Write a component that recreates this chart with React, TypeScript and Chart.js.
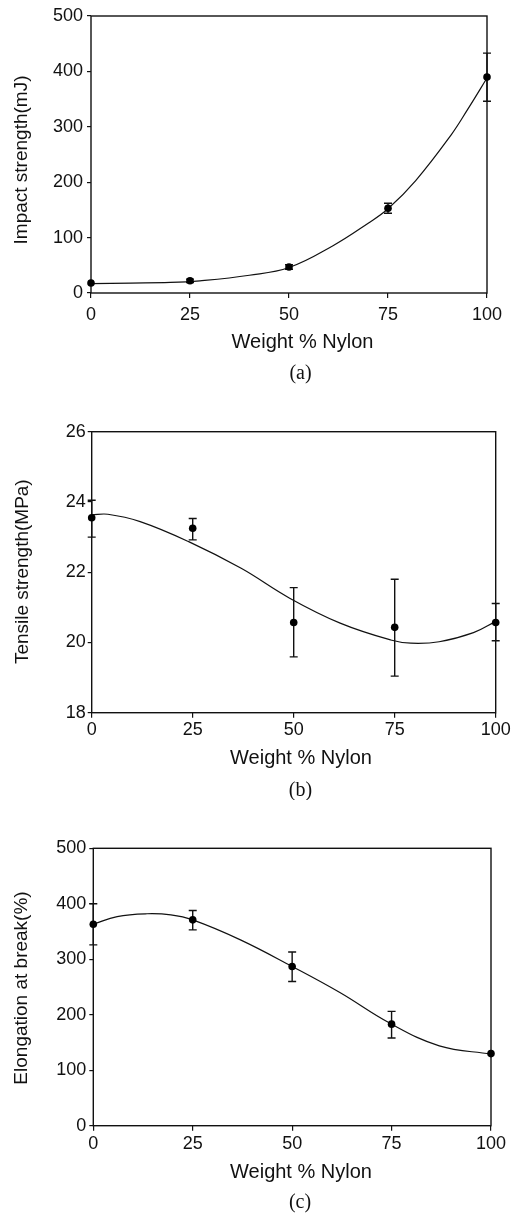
import React, { useEffect, useRef } from "react";
import { Chart, registerables } from "chart.js";

Chart.register(...registerables);

// ---------- data ----------
const nylonWt = [0, 25, 50, 75, 100];
const xTickValues = [0, 25, 50, 75, 100];

// (a) Impact strength (mJ)
const impactMean = [18, 22, 47, 153, 390];
const impactLow = [18, 19, 43, 144, 346];
const impactHigh = [18, 25, 51, 162, 433];
const impactFitX = [0, 10, 20, 27.5, 40, 50, 61, 70, 75, 82, 91, 95, 100];
const impactFitY = [17, 18, 19, 22, 32, 46, 85, 126, 152, 203, 286, 330, 388];
const impactTicks = [0, 100, 200, 300, 400, 500];

// (b) Tensile strength (MPa)
const tensileMean = [23.55, 23.25, 20.57, 20.43, 20.57];
const tensileLow = [23.0, 22.92, 19.59, 19.04, 20.05];
const tensileHigh = [24.05, 23.53, 21.56, 21.8, 21.11];
const tensileFitX = [0, 4, 12, 24, 37, 49, 61.5, 74, 79, 86, 94.5, 100];
const tensileFitY = [23.63, 23.65, 23.44, 22.87, 22.11, 21.26, 20.55, 20.07, 19.98, 20.02, 20.28, 20.6];
const tensileTicks = [18, 20, 22, 24, 26];

// (c) Elongation at break (%)
const elongMean = [363, 371, 287, 183, 130];
const elongLow = [326, 353, 260, 158, 130];
const elongHigh = [400, 388, 313, 206, 130];
const elongFitX = [0, 6, 13.5, 19.5, 25, 37, 50, 62, 74.5, 87, 100];
const elongFitY = [363, 377, 382, 380, 371, 335, 287, 240, 185, 144, 129];
const elongTicks = [0, 100, 200, 300, 400, 500];

// ---------- panel specs ----------
type Spec = {
  height: number;
  mean: number[];
  low: number[];
  high: number[];
  fitX: number[];
  fitY: number[];
  yTicks: number[];
  yMin: number;
  yMax: number;
  yTitle: string;
  caption: string;
  padTop: number;
  padRight: number;
  yWidth: number;
  xHeight: number;
  xTickPad: number;
  yTickPad: number;
  yTitlePos: [number, number];
  xTitlePos: [number, number];
  captionPos: [number, number];
};

const SANS = "'Liberation Sans', Arial, sans-serif";
const SERIF = "'Liberation Serif', 'Times New Roman', serif";
const INK = "#111";

const specs: Spec[] = [
  {
    height: 400,
    mean: impactMean, low: impactLow, high: impactHigh,
    fitX: impactFitX, fitY: impactFitY,
    yTicks: impactTicks, yMin: 0, yMax: 500,
    yTitle: "Impact strength(mJ)", caption: "(a)",
    padTop: 16, padRight: 31, yWidth: 91, xHeight: 107,
    xTickPad: 6, yTickPad: 4,
    yTitlePos: [27, 160], xTitlePos: [302.5, 348], captionPos: [300.5, 373.5],
  },
  {
    height: 400,
    mean: tensileMean, low: tensileLow, high: tensileHigh,
    fitX: tensileFitX, fitY: tensileFitY,
    yTicks: tensileTicks, yMin: 18, yMax: 26,
    yTitle: "Tensile strength(MPa)", caption: "(b)",
    padTop: 31.7, padRight: 22.3, yWidth: 91.7, xHeight: 87.3,
    xTickPad: 2, yTickPad: 2,
    yTitlePos: [28, 171.7], xTitlePos: [301, 364.3], captionPos: [300.5, 391],
  },
  {
    height: 414,
    mean: elongMean, low: elongLow, high: elongHigh,
    fitX: elongFitX, fitY: elongFitY,
    yTicks: elongTicks, yMin: 0, yMax: 500,
    yTitle: "Elongation at break(%)", caption: "(c)",
    padTop: 48.3, padRight: 27, yWidth: 93.3, xHeight: 88.3,
    xTickPad: 3, yTickPad: 3,
    yTitlePos: [27, 188], xTitlePos: [301, 378.3], captionPos: [300, 402.5],
  },
];

function makeConfig(p: Spec): any {
  const decor = {
    id: "decor",
    beforeDatasetsDraw(chart: any) {
      const { ctx, chartArea: a } = chart;
      const x = chart.scales.x;
      const y = chart.scales.y;
      ctx.save();
      ctx.strokeStyle = INK;
      ctx.lineWidth = 1.4;
      ctx.strokeRect(a.left, a.top, a.right - a.left, a.bottom - a.top);
      ctx.lineWidth = 1.4;
      nylonWt.forEach((xv, i) => {
        const px = x.getPixelForValue(xv);
        const lo = y.getPixelForValue(p.low[i]);
        const hi = y.getPixelForValue(p.high[i]);
        if (Math.abs(lo - hi) < 1) return;
        ctx.beginPath();
        ctx.moveTo(px, lo);
        ctx.lineTo(px, hi);
        ctx.moveTo(px - 4, lo);
        ctx.lineTo(px + 4, lo);
        ctx.moveTo(px - 4, hi);
        ctx.lineTo(px + 4, hi);
        ctx.stroke();
      });
      ctx.restore();
    },
    afterDraw(chart: any) {
      const { ctx } = chart;
      ctx.save();
      ctx.fillStyle = INK;
      // y title
      ctx.font = `19px ${SANS}`;
      ctx.textAlign = "center";
      ctx.textBaseline = "alphabetic";
      ctx.translate(p.yTitlePos[0], p.yTitlePos[1]);
      ctx.rotate(-Math.PI / 2);
      ctx.fillText(p.yTitle, 0, 0);
      ctx.setTransform(1, 0, 0, 1, 0, 0);
      // x title
      ctx.font = `20px ${SANS}`;
      ctx.fillText("Weight % Nylon", p.xTitlePos[0], p.xTitlePos[1]);
      // caption
      ctx.font = `20px ${SERIF}`;
      ctx.textBaseline = "middle";
      ctx.fillText(p.caption, p.captionPos[0], p.captionPos[1]);
      ctx.restore();
    },
  };

  return {
    type: "scatter",
    data: {
      datasets: [
        {
          type: "line",
          data: p.fitX.map((v, i) => ({ x: v, y: p.fitY[i] })),
          borderColor: INK,
          borderWidth: 1.2,
          pointRadius: 0,
          fill: false,
          tension: 0.4,
          clip: false,
          order: 2,
        },
        {
          type: "scatter",
          data: nylonWt.map((v, i) => ({ x: v, y: p.mean[i] })),
          backgroundColor: "#000",
          borderWidth: 0,
          pointRadius: 3.8,
          clip: false,
          order: 1,
        },
      ],
    },
    options: {
      responsive: false,
      animation: false,
      devicePixelRatio: 1,
      layout: { padding: { left: 0, top: p.padTop, right: p.padRight, bottom: 0 } },
      plugins: { legend: { display: false }, tooltip: { enabled: false } },
      scales: {
        x: {
          type: "linear",
          min: 0,
          max: 100,
          afterBuildTicks: (s: any) => {
            s.ticks = xTickValues.map((v) => ({ value: v }));
          },
          afterFit: (s: any) => {
            s.height = p.xHeight;
          },
          grid: { drawOnChartArea: false, drawTicks: true, tickLength: 5, color: INK, lineWidth: 1.2 },
          border: { display: false },
          ticks: {
            padding: p.xTickPad,
            color: INK,
            font: { family: SANS, size: 18 },
            maxRotation: 0,
            autoSkip: false,
          },
        },
        y: {
          type: "linear",
          min: p.yMin,
          max: p.yMax,
          afterBuildTicks: (s: any) => {
            s.ticks = p.yTicks.map((v) => ({ value: v }));
          },
          afterFit: (s: any) => {
            s.width = p.yWidth;
          },
          grid: { drawOnChartArea: false, drawTicks: true, tickLength: 4, color: INK, lineWidth: 1.2 },
          border: { display: false },
          ticks: {
            padding: p.yTickPad,
            color: INK,
            font: { family: SANS, size: 18 },
            autoSkip: false,
          },
        },
      },
    },
    plugins: [decor],
  };
}

function Panel({ spec }: { spec: Spec }) {
  const ref = useRef<HTMLCanvasElement | null>(null);
  useEffect(() => {
    if (!ref.current) return;
    const chart = new Chart(ref.current, makeConfig(spec));
    return () => chart.destroy();
  }, [spec]);
  return (
    <canvas
      ref={ref}
      width={518}
      height={spec.height}
      style={{ display: "block", width: 518, height: spec.height }}
    />
  );
}

export default function App() {
  return (
    <div
      style={{
        position: "absolute",
        top: 0,
        left: 0,
        width: 518,
        height: 1214,
        background: "#fff",
        overflow: "hidden",
      }}
    >
      {specs.map((s, i) => (
        <Panel key={i} spec={s} />
      ))}
    </div>
  );
}
